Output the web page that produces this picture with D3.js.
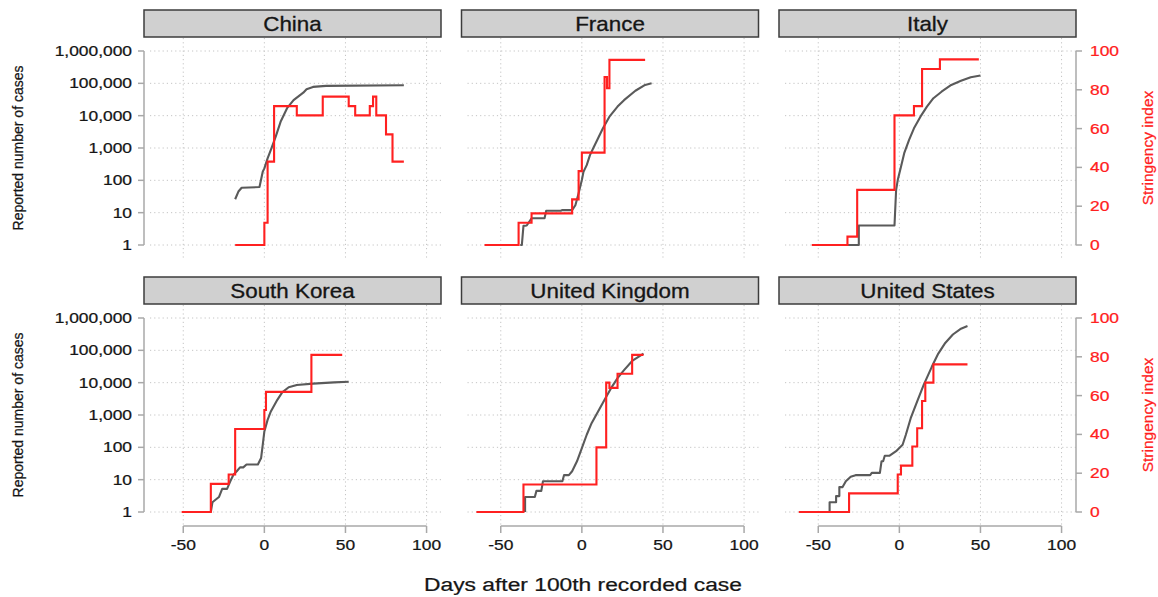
<!DOCTYPE html>
<html>
<head>
<meta charset="utf-8">
<script src="https://cdn.jsdelivr.net/npm/d3@7"></script>
<style>
  html, body { margin: 0; padding: 0; background: #fff; }
  svg { display: block; font-family: "Liberation Sans", Arial, Helvetica, sans-serif; }
</style>
</head>
<body>
<svg id="chart" width="1158" height="597"></svg>
<script>
// ---------------- DATA ----------------
const countries = ["China", "France", "Italy", "South Korea", "United Kingdom", "United States"];
const caseTicks = [1, 10, 100, 1000, 10000, 100000, 1000000];
const stringencyTicks = [0, 20, 40, 60, 80, 100];
const dayTicks = [-50, 0, 50, 100];

// [day after 100th case, reported cases]
const chinaCases = [[-18,26],[-16,45],[-14,59],[-3,62],[-1,185],[0,234],[2,480],[4,870],[7,2240],[10,6460],[14,17000],[18,30200],[24,51300],[26,66000],[30,77600],[38,83200],[86,87100]];
const franceCases = [[-38,1],[-37,1],[-36,3.9],[-34,4],[-31,6.7],[-23,6.7],[-22,11.5],[-13,11.5],[-12,12],[-6,12],[-4,17],[-2,40],[0,102],[1,185],[3,295],[5,600],[7,980],[10,2000],[13,4070],[17,9330],[22,19050],[26,30200],[33,58900],[39,89100],[43,100000]];
const italyCases = [[-32,1],[-25,1],[-25,4],[-3,4],[-2,50],[-1,102],[1,263],[3,690],[6,1780],[9,4070],[13,9330],[17,19050],[21,34700],[26,55000],[32,89100],[38,120000],[44,155000],[50,174000]];
const koreaCases = [[-33,1],[-32,2],[-28,2.9],[-26,5.2],[-23,5.2],[-21,8.9],[-19,14.5],[-17,18.2],[-15,24],[-13,24],[-11,29.5],[-4,29.5],[-2,46.8],[-1,120],[0,309],[2,708],[4,1290],[8,2950],[11,5010],[15,7240],[20,8510],[30,9330],[43,10230],[52,10700]];
const ukCases = [[-35,1],[-35,2.9],[-29,2.9],[-28,4.5],[-25,4.5],[-24,8.9],[-12,8.9],[-11,13.8],[-8,13.8],[-6,18.2],[-3,37],[0,95],[3,245],[6,560],[10,1290],[14,2950],[18,6760],[22,13800],[26,24500],[31,46800],[38,79400]];
const usCases = [[-43,1],[-43,2],[-39,2],[-39,3.1],[-37,3.1],[-37,5.9],[-35,5.9],[-33,8.9],[-30,12.3],[-27,13.8],[-18,13.8],[-17,16.2],[-12,16.2],[-11,37],[-10,37],[-9,55],[-6,55],[-2,76],[2,120],[4,245],[7,794],[11,2630],[15,8510],[20,30900],[24,79400],[28,162000],[33,309000],[38,468000],[42,562000]];

// [day after 100th case, stringency index] (step function)
const chinaStringency = [[-18,0],[0,11.5],[2,43],[6,71.6],[20,66.8],[36,76.5],[52,71.6],[56,66.8],[65,71.6],[67,76.5],[69,66.8],[75,57],[79,43],[86,43]];
const franceStringency = [[-60,0],[-39,11.5],[-31,16.3],[-6,23.5],[-2,38.1],[0,47.6],[14,86.6],[15.5,80.8],[17,95.4],[39,95.4]];
const italyStringency = [[-54,0],[-32,4.3],[-26,28.4],[-3,66.8],[9,71.6],[14,90.7],[25,95.7],[49,95.7]];
const koreaStringency = [[-51,0],[-33,14.5],[-22,19.3],[-18,42.8],[0,52.6],[1,61.9],[29,81],[48,81]];
const ukStringency = [[-65,0],[-36,14.2],[9,33.3],[15,66.7],[17,64],[22,71.3],[31,81],[38,81]];
const usStringency = [[-62,0],[-31,9.6],[-1,19.3],[1,23.9],[8,33.8],[11,43.2],[14,57.2],[16,66.7],[21,76.1],[42,76.1]];

const casesByCountry = [chinaCases, franceCases, italyCases, koreaCases, ukCases, usCases];
const stringencyByCountry = [chinaStringency, franceStringency, italyStringency, koreaStringency, ukStringency, usStringency];

// ---------------- LAYOUT ----------------
const svg = d3.select("#chart");
const colLeft = [144, 461.5, 779];
const panelW = 297;
const stripTop = [10, 277];
const stripH = 27;
const SX = 1.2; // horizontal text stretch of the original

const gray = "#5a5a5a", red = "#ff2020", axisCol = "#a8a8a8", gridCol = "#c4c4c4", textCol = "#151515";

function txt(g, x, y, s, o) {
  o = o || {};
  const t = g.append("text")
    .attr("transform", `translate(${x},${y})` + (o.rotate ? ` rotate(${o.rotate})` : ` scale(${o.sx || SX},1)`))
    .attr("text-anchor", o.anchor || "middle")
    .attr("font-size", o.size || 14.5)
    .attr("fill", o.fill || textCol)
    .attr("stroke", o.fill || textCol)
    .attr("stroke-width", o.sw == null ? 0.25 : o.sw)
    .text(s);
  return t;
}

const fmt = d3.format(",");

countries.forEach((name, i) => {
  const col = i % 3, row = Math.floor(i / 3);
  const left = colLeft[col];
  const st = stripTop[row];
  const g = svg.append("g");

  const x = d3.scaleLinear().domain([-74.2, 108.9]).range([left, left + panelW]);
  const y = d3.scaleLog().domain([1, 1e6]).range([st + 235, st + 41]);
  const ys = d3.scaleLinear().domain([0, 100]).range([st + 235, st + 41]);

  // strip
  g.append("rect").attr("x", left).attr("y", st).attr("width", panelW).attr("height", stripH)
    .attr("fill", "#d0d0d0").attr("stroke", "#3c3c3c").attr("stroke-width", 1.5);
  txt(g, left + panelW / 2, st + 20.5, name, { size: 20, sx: 1.12, sw: 0.3 });

  // grid
  g.selectAll(".hg").data(caseTicks).join("line")
    .attr("x1", left + 6).attr("x2", left + panelW)
    .attr("y1", d => y(d)).attr("y2", d => y(d))
    .attr("stroke", gridCol).attr("stroke-width", 1).attr("stroke-dasharray", "1.2,3");
  g.selectAll(".vg").data(dayTicks).join("line")
    .attr("x1", d => x(d)).attr("x2", d => x(d))
    .attr("y1", st + stripH + 1).attr("y2", st + 248)
    .attr("stroke", gridCol).attr("stroke-width", 1).attr("stroke-dasharray", "1.2,3");

  // left axis
  if (col === 0) {
    g.append("line").attr("x1", left).attr("x2", left).attr("y1", y(1e6)).attr("y2", y(1))
      .attr("stroke", axisCol).attr("stroke-width", 1.5);
    caseTicks.forEach(t => {
      g.append("line").attr("x1", left - 6).attr("x2", left).attr("y1", y(t)).attr("y2", y(t))
        .attr("stroke", axisCol).attr("stroke-width", 1.5);
      txt(g, left - 12, y(t) + 5, fmt(t), { anchor: "end" });
    });
    txt(g, 23, (y(1) + y(1e6)) / 2, "Reported number of cases", { rotate: -90, size: 14 });
  }
  // right axis
  if (col === 2) {
    const rx = left + panelW;
    g.append("line").attr("x1", rx).attr("x2", rx).attr("y1", ys(100)).attr("y2", ys(0))
      .attr("stroke", axisCol).attr("stroke-width", 1.5);
    stringencyTicks.forEach(t => {
      g.append("line").attr("x1", rx).attr("x2", rx + 6).attr("y1", ys(t)).attr("y2", ys(t))
        .attr("stroke", axisCol).attr("stroke-width", 1.5);
      txt(g, rx + 14, ys(t) + 5, String(t), { anchor: "start", fill: red });
    });
    txt(g, 1153, (ys(0) + ys(100)) / 2, "Stringency index", { rotate: -90, size: 15.5, fill: red });
  }
  // bottom axis
  if (row === 1) {
    const ay = st + 249;
    g.append("line").attr("x1", x(-50)).attr("x2", x(100)).attr("y1", ay).attr("y2", ay)
      .attr("stroke", axisCol).attr("stroke-width", 1.5);
    dayTicks.forEach(t => {
      g.append("line").attr("x1", x(t)).attr("x2", x(t)).attr("y1", ay).attr("y2", ay + 7)
        .attr("stroke", axisCol).attr("stroke-width", 1.5);
      txt(g, x(t), ay + 24, String(t));
    });
  }

  // series
  const caseLine = d3.line().x(d => x(d[0])).y(d => y(d[1]));
  const strLine = d3.line().x(d => x(d[0])).y(d => ys(d[1])).curve(d3.curveStepAfter);
  g.append("path").attr("d", caseLine(casesByCountry[i]))
    .attr("fill", "none").attr("stroke", gray).attr("stroke-width", 2.1).attr("stroke-linejoin", "round");
  g.append("path").attr("d", strLine(stringencyByCountry[i]))
    .attr("fill", "none").attr("stroke", red).attr("stroke-width", 2.1);
});

txt(svg, 583, 591, "Days after 100th recorded case", { size: 19 });
</script>
</body>
</html>
